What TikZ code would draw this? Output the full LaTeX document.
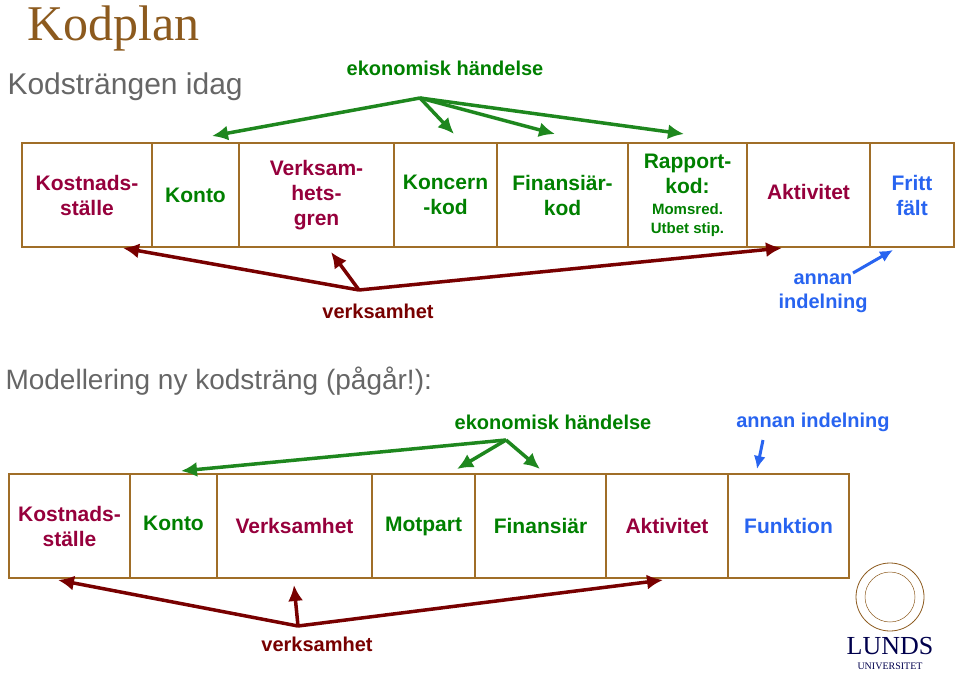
\documentclass[tikz,border=0pt]{standalone}
\usepackage{fontspec}
\setmainfont{Liberation Sans}
\usetikzlibrary{arrows.meta}
\definecolor{kred}{RGB}{150,0,60}
\definecolor{kgreen}{RGB}{0,128,0}
\definecolor{kblue}{RGB}{40,100,240}
\definecolor{agreen}{RGB}{30,135,30}
\definecolor{ared}{RGB}{120,0,0}
\definecolor{kframe}{RGB}{160,110,40}
\definecolor{kbrown}{RGB}{140,90,30}
\tikzset{
  cell/.style={draw=kframe, line width=1.2pt, minimum height=104, inner sep=1pt, align=center, font=\fontsize{21}{25}\selectfont\bfseries},
  lab/.style={font=\fontsize{20}{24}\selectfont\bfseries, align=center},
  garrow/.style={agreen, line width=3.5pt, -{Latex[length=16pt,width=15pt]}},
  rarrow/.style={ared, line width=3.5pt, -{Latex[length=16pt,width=15pt]}},
  barrow/.style={kblue, line width=3pt, -{Latex[length=13pt,width=12pt]}}
}
\newcommand{\cellat}[5]{\node[cell, minimum width=#3-#2, text=#4] (#1) at ({(#2+#3)/2},#5)}
\begin{document}
\begin{tikzpicture}[x=1pt,y=-1pt]
  \useasboundingbox (0,0) rectangle (960,674);
  % titles
  \node[anchor=west, kbrown, font=\fontspec{Liberation Serif}\fontsize{50}{50}\selectfont] (title) at (24,28) {Kodplan};
  \node[anchor=west, gray!80!black, font=\fontsize{30}{30}\selectfont] (sub1) at (4,87) {Kodsträngen idag};
  \node[anchor=west, gray!80!black, font=\fontsize{28}{28}\selectfont] (sub2) at (2,381) {Modellering ny kodsträng (pågår!):};
  % upper code string
  \cellat{k1}{22}{152}{kred}{195} {Kostnads-\\ställe};
  \cellat{k2}{152}{239}{kgreen}{195} {Konto};
  \cellat{k3}{239}{394}{kred}{195} {Verksam-\\hets-\\gren};
  \cellat{k4}{394}{497}{kgreen}{195} {Koncern\\-kod};
  \cellat{k5}{497}{628}{kgreen}{195} {Finansiär-\\kod};
  \cellat{k6}{628}{747}{kgreen}{195} {Rapport-\\kod:\\[-4pt]{\fontsize{15}{16}\selectfont Momsred.}\\[-6pt]{\fontsize{15}{16}\selectfont Utbet stip.}};
  \cellat{k7}{747}{870}{kred}{195} {\raisebox{7pt}{Aktivitet}};
  \cellat{k8}{870}{954}{kblue}{195} {Fritt\\fält};
  \node[lab, kgreen] (eko1) at (445,68) {ekonomisk händelse};
  \node[lab, ared] (verk1) at (378,311) {verksamhet};
  \node[lab, kblue] (ann1) at (823,293) {annan\\indelning};
  \coordinate (g1) at (420,98);
  \coordinate (r1) at (359,290);
  \draw[garrow] (g1) -- (212,136);
  \draw[garrow] (g1) -- (454,134);
  \draw[garrow] (g1) -- (555,134);
  \draw[garrow] (g1) -- (684,134);
  \draw[rarrow] (r1) -- (123,248);
  \draw[rarrow] (r1) -- (331,252);
  \draw[rarrow] (r1) -- (782,248);
  \draw[barrow] (853,273) -- (893,250);
  % lower code string
  \cellat{n1}{9}{130}{kred}{526} {Kostnads-\\ställe};
  \cellat{n2}{130}{217}{kgreen}{526} {\raisebox{6pt}{Konto}};
  \cellat{n3}{217}{372}{kred}{526} {Verksamhet};
  \cellat{n4}{372}{475}{kgreen}{526} {Motpart};
  \cellat{n5}{475}{606}{kgreen}{526} {Finansiär};
  \cellat{n6}{606}{728}{kred}{526} {Aktivitet};
  \cellat{n7}{728}{849}{kblue}{526} {Funktion};
  \node[lab, kgreen] (eko2) at (553,422) {ekonomisk händelse};
  \node[lab, kblue] (ann2) at (813,422) {annan indelning};
  \node[lab, ared] (verk2) at (317,644) {verksamhet};
  \coordinate (g2) at (506,440);
  \coordinate (r2) at (298,626);
  \draw[garrow] (g2) -- (181,471);
  \draw[garrow] (g2) -- (457,469);
  \draw[garrow] (g2) -- (540,469);
  \draw[barrow] (763,440) -- (757,469);
  \draw[rarrow] (r2) -- (58,580);
  \draw[rarrow] (r2) -- (294,585);
  \draw[rarrow] (r2) -- (663,580);
  % logo
  \draw[kbrown, line width=0.8pt] (890,597) circle (34);
  \draw[kbrown, line width=0.5pt] (890,597) circle (25);
  \node[font=\fontspec{Liberation Serif}\fontsize{26}{26}\selectfont, text=blue!30!black, inner sep=0pt] (lunds) at (890,646) {LUNDS};
  \node[font=\fontspec{Liberation Serif}\fontsize{10}{10}\selectfont, text=blue!30!black, inner sep=0pt] (univ) at (890,666) {UNIVERSITET};
\end{tikzpicture}
\end{document}
